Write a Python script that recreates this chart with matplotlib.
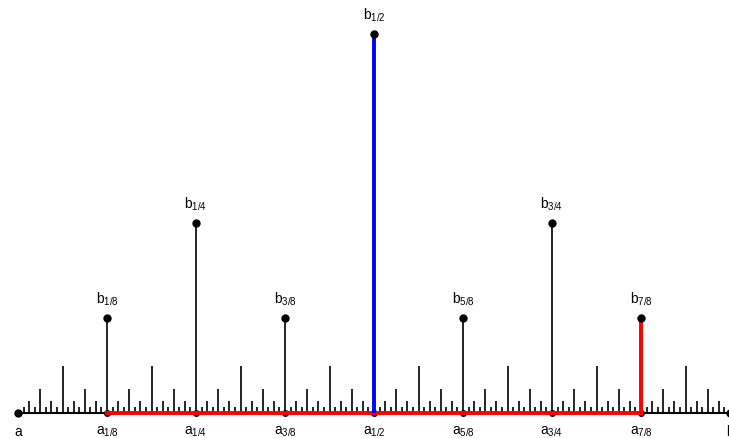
import matplotlib
matplotlib.use("Agg")
import matplotlib.pyplot as plt

plt.rcParams['font.family'] = ['Liberation Sans', 'DejaVu Sans']
plt.rcParams['mathtext.fontset'] = 'custom'
plt.rcParams['mathtext.rm'] = 'Liberation Sans'
plt.rcParams['mathtext.it'] = 'Liberation Sans'

# ruler tick heights per dyadic level (1/2, 1/4, 1/8, ... 1/128)
level_heights = [1.0, 0.5, 0.25, 0.125, 0.0625, 0.031, 0.0155]

# labelled points k/8
label_num = [1, 2, 3, 4, 5, 6, 7]
label_txt = ["1/8", "1/4", "3/8", "1/2", "5/8", "3/4", "7/8"]

# highlighted pieces
red_span = (1 / 8, 7 / 8)
blue_stem = 1 / 2
red_stem = 7 / 8

fig = plt.figure(figsize=(7.29, 4.38), dpi=100)
ax = fig.add_axes([0, 0, 1, 1])

# scale: x 0..1 -> 712 px starting at px 18; y height 1 -> 379 px, baseline at 25 px from bottom
ax.set_xlim(-18 / 712, 711 / 712)
ax.set_ylim(-25 / 379, 413 / 379)
ax.axis('off')

# ruler ticks
n_levels = len(level_heights)
for lev in range(n_levels):
    den = 2 ** (lev + 1)
    for k in range(1, den, 2):
        ax.plot([k / den, k / den], [0, level_heights[lev]], color='black', lw=1.2,
                solid_capstyle='butt', zorder=2)

# baseline
ax.plot([0, 1], [0, 0], color='black', lw=1.5, zorder=2)
ax.plot([0], [0], 'o', color='black', ms=5, zorder=5)
ax.plot([1], [0], 'o', color='black', ms=5, zorder=5)

# baseline dots at k/8
xs = [k / 8 for k in label_num]
ax.plot(xs, [0] * len(xs), 'o', color='black', ms=4, zorder=3)

# highlighted segments
ax.plot(list(red_span), [0, 0], color='red', lw=2.8, zorder=4)
ax.plot([blue_stem, blue_stem], [0, level_heights[0]], color='blue', lw=2.8,
        solid_capstyle='butt', zorder=4)
ax.plot([red_stem, red_stem], [0, level_heights[2]], color='red', lw=2.8,
        solid_capstyle='butt', zorder=4)

# top dots and labels
for k, t in zip(label_num, label_txt):
    x = k / 8
    den = 8
    kk = k
    lev = 2
    while kk % 2 == 0:
        kk //= 2
        lev -= 1
    h = level_heights[lev]
    ax.plot([x], [h], 'o', color='black', ms=5, zorder=6)
    ax.text(x, h + 10 / 379, r"b$_{%s}$" % t, ha='center', va='bottom', fontsize=10)
    ax.text(x, -12 / 379, r"a$_{%s}$" % t, ha='center', va='top', fontsize=10)

ax.text(0, -12 / 379, "a", ha='center', va='top', fontsize=10)
ax.text(1, -12 / 379, "b", ha='center', va='top', fontsize=10)

fig.savefig("out.png", dpi=100)
